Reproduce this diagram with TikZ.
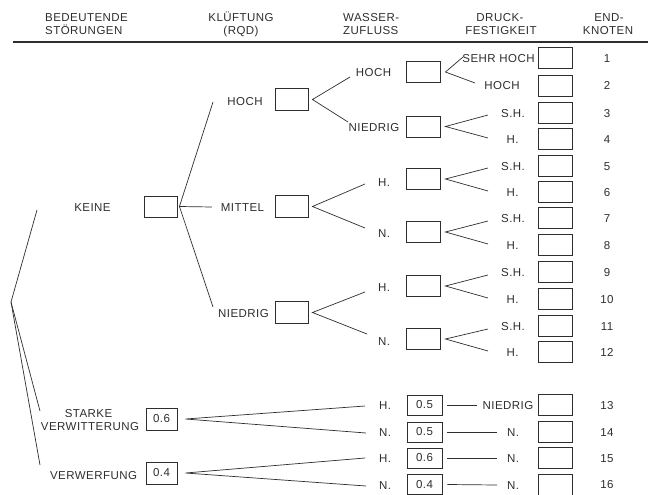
\documentclass[tikz,border=0pt]{standalone}
\usepackage{fontspec}
\newfontfamily\labfont[LetterSpace=4]{Liberation Sans}
\definecolor{ink}{gray}{0.18}
\begin{document}
\begin{tikzpicture}[x=1pt,y=-1pt,
  lab/.style={font=\labfont\fontsize{11.5}{13}\selectfont, inner sep=0pt, text height=8.2pt, text depth=0pt, text=ink},
  bx/.style={draw=ink, line width=0.9pt, minimum width=34pt, minimum height=21pt, inner sep=0pt, font=\labfont\fontsize{11.5}{13}\selectfont, text=ink},
  ln/.style={draw=ink, line width=0.7pt}]
\useasboundingbox[fill=white] (0,0) rectangle (648,495);

% header
\node[lab, anchor=west] (h1a) at (45,17) {BEDEUTENDE};
\node[lab, anchor=west] (h1b) at (45,30) {STÖRUNGEN};
\node[lab] (h2a) at (241,17) {KLÜFTUNG};
\node[lab] (h2b) at (241,30) {(RQD)};
\node[lab, anchor=west] (h3a) at (343,17) {WASSER-};
\node[lab, anchor=west] (h3b) at (343,30) {ZUFLUSS};
\node[lab] (h4a) at (500,17) {DRUCK-};
\node[lab] (h4b) at (501,30) {FESTIGKEIT};
\node[lab] (h5a) at (609,17) {END-};
\node[lab] (h5b) at (608,30) {KNOTEN};
\coordinate (rl) at (13,42);
\coordinate (rr) at (648,42);
\draw[draw=ink, line width=1.3pt] (rl) -- (rr);

% terminal boxes and numbers
\foreach \i/\y in {1/58,2/85.5,3/113,4/139,5/166,6/192,7/218,8/245,9/272,10/299,11/326,12/352,13/405,14/432,15/458,16/484.5} {
  \node[bx] (t\i) at (555,\y) {};
  \node[lab] (n\i) at (607,\y) {\i};
}

% pressure labels
\node[lab] (p1) at (498.5,58) {SEHR HOCH};
\node[lab] (p2) at (502,85.5) {HOCH};
\foreach \i/\y in {3/113,5/166,7/218,9/272,11/326} {
  \node[lab] (p\i) at (513,\y) {S.H.};
}
\foreach \i/\y in {4/139,6/192,8/245,10/299,12/352} {
  \node[lab] (p\i) at (512.5,\y) {H.};
}
\node[lab] (p13) at (508,405) {NIEDRIG};
\foreach \i/\y in {14/432,15/458,16/485} {
  \node[lab] (p\i) at (513,\y) {N.};
}

% water inflow boxes and labels
\foreach \k/\y in {1/72,2/126.5,3/179,4/232,5/286,6/339} {
  \node[bx] (w\k) at (423,\y) {};
}
\node[lab] (wl1) at (373.5,72) {HOCH};
\node[lab] (wl2) at (374,127) {NIEDRIG};
\node[lab] (wl3) at (384,182) {H.};
\node[lab] (wl4) at (384,233) {N.};
\node[lab] (wl5) at (384,287) {H.};
\node[lab] (wl6) at (384,341) {N.};

% forks to pressure
\coordinate (e1u) at (463,57);
\coordinate (e1d) at (475,83);
\draw[ln] (e1u) -- ([xshift=5pt]w1.east) -- (e1d);
\foreach \k/\u/\d in {2/115/138,3/168/191,4/221/244,5/275/298,6/329/351} {
  \coordinate (e\k u) at (488,\u);
  \coordinate (e\k d) at (488,\d);
  \draw[ln] (e\k u) -- ([xshift=5pt]w\k.east) -- (e\k d);
}

% Klueftung
\node[bx, minimum width=33pt, minimum height=22pt] (k1) at (291.5,99.5) {};
\node[bx, minimum width=33pt, minimum height=22pt] (k2) at (291.5,206.5) {};
\node[bx, minimum width=33pt, minimum height=22pt] (k3) at (291.5,312.5) {};
\node[lab] (kl1) at (245,101) {HOCH};
\node[lab] (kl2) at (242.5,207) {MITTEL};
\node[lab] (kl3) at (243.5,313) {NIEDRIG};

\coordinate (f1u) at (350,77);
\coordinate (f1d) at (348,122);
\coordinate (f2u) at (365,184);
\coordinate (f2d) at (365,228);
\coordinate (f3u) at (365,292);
\coordinate (f3d) at (367,334);
\draw[ln] (f1u) -- ([xshift=4pt]k1.east) -- (f1d);
\draw[ln] (f2u) -- ([xshift=4pt]k2.east) -- (f2d);
\draw[ln] (f3u) -- ([xshift=4pt]k3.east) -- (f3d);

% KEINE
\node[bx, minimum width=33pt] (kb) at (160.5,206.5) {};
\node[lab] (kn) at (92.5,207) {KEINE};
\coordinate (g1) at (213,102);
\coordinate (g2) at (212,207);
\coordinate (g3) at (213,307);
\draw[ln] (g1) -- ([xshift=2pt]kb.east) -- (g3);
\draw[ln] ([xshift=2pt]kb.east) -- (g2);

% root
\coordinate (root) at (11,302);
\coordinate (r1) at (37,210);
\coordinate (r2) at (40,411);
\coordinate (r3) at (40,465);
\draw[ln] (r1) -- (root) -- (r2);
\draw[ln] (root) -- (r3);

% starke verwitterung / verwerfung
\node[lab] (sv1) at (88.5,413) {STARKE};
\node[lab] (sv2) at (90,426) {VERWITTERUNG};
\node[bx, minimum width=31pt, minimum height=22pt] (sv) at (161.5,419) {0.6};
\node[lab] (vw1) at (93.5,475) {VERWERFUNG};
\node[bx, minimum width=31pt, minimum height=22pt] (vw) at (161.5,473) {0.4};

\coordinate (s13) at (365,406);
\coordinate (s14) at (366,433);
\coordinate (s15) at (365,458);
\coordinate (s16) at (366,486);
\draw[ln] (s13) -- ([xshift=8pt]sv.east) -- (s14);
\draw[ln] (s15) -- ([xshift=8pt]vw.east) -- (s16);

% bottom water labels and probability boxes
\node[lab] (bl13) at (385,405) {H.};
\node[lab] (bl14) at (385,432) {N.};
\node[lab] (bl15) at (385,458) {H.};
\node[lab] (bl16) at (385,485) {N.};
\node[bx, minimum width=35pt, minimum height=20pt] (b13) at (424.5,405) {0.5};
\node[bx, minimum width=35pt, minimum height=20pt] (b14) at (424.5,432) {0.5};
\node[bx, minimum width=35pt, minimum height=20pt] (b15) at (424.5,458) {0.6};
\node[bx, minimum width=35pt, minimum height=20pt] (b16) at (424.5,484.5) {0.4};
\coordinate (c13) at (477,405);
\coordinate (c14) at (497,432);
\coordinate (c15) at (497,458);
\coordinate (c16) at (497,485);
\draw[ln] ([xshift=5pt]b13.east) -- (c13);
\draw[ln] ([xshift=5pt]b14.east) -- (c14);
\draw[ln] ([xshift=5pt]b15.east) -- (c15);
\draw[ln] ([xshift=5pt]b16.east) -- (c16);
\end{tikzpicture}
\end{document}
